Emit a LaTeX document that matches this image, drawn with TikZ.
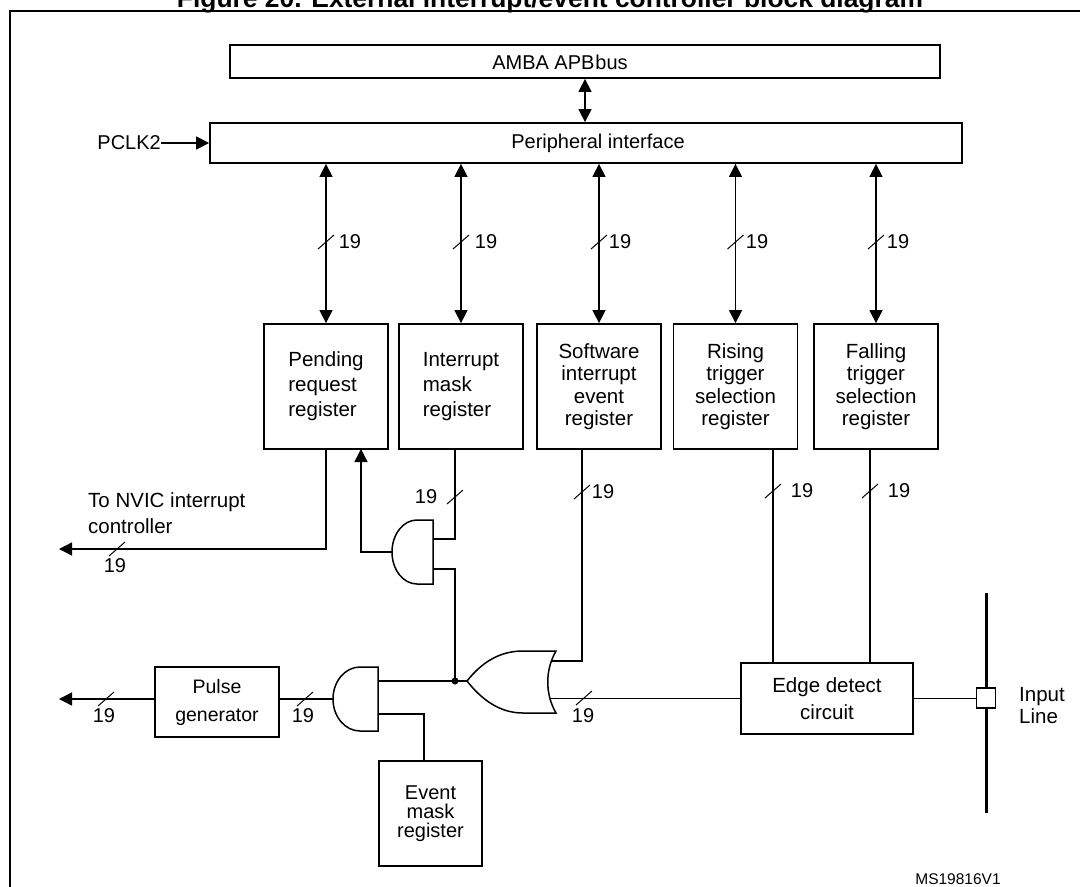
\documentclass[tikz,border=0pt]{standalone}
\usepackage{fontspec}
\usepackage{graphicx}
\setmainfont{Liberation Sans}
\usetikzlibrary{arrows.meta}
\newcommand{\busslash}[1]{\draw[line width=1pt] #1 ++(-8,7) -- ++(16,-14);}
\begin{document}
\begin{tikzpicture}[x=1pt,y=-1pt,
  every node/.style={inner sep=0pt},
  box/.style={draw, line width=1.8pt, fill=white, align=center, font=\fontsize{20.5}{22.5}\selectfont},
  wire/.style={line width=1.3pt},
  tip/.style={-{Triangle[length=13pt,width=13pt]}},
  bus/.style={line width=1.5pt, {Triangle[length=13pt,width=13pt]}-{Triangle[length=13pt,width=13pt]}},
  num/.style={font=\fontsize{20}{22}\selectfont},
  gate/.style={line width=1.5pt, fill=white},
]
\fill[white] (0,0) rectangle (1080,887);
\useasboundingbox (0,0) rectangle (1080,887);

% title and frame
\node[anchor=base, font=\bfseries] (title) at (550,7) {\resizebox{746pt}{!}{Figure 20. External interrupt/event controller block diagram}};
\draw[line width=2.2pt] (1100,11) -- (10,11) -- (10,900);

% top boxes
\node[box, minimum width=710, minimum height=33] (amba) at (585,61.5) {};
\node[font=\fontsize{20}{22}\selectfont] (ambatxt) at (560,62) {AMBA APB\kern1pt bus};
\node[box, minimum width=752, minimum height=40] (periph) at (586,143) {};
\node[font=\fontsize{20}{22}\selectfont] (periphtxt) at (598,143) {Peripheral interface};
\node[num, anchor=east] (pclk) at (161,143) {PCLK2};
\draw[wire, tip] (pclk.east) -- (periph.west);
\draw[bus] (amba.south) -- (amba.south |- periph.north);

% registers
\node[box, align=left, font=\fontsize{20.5}{25}\selectfont, minimum width=124, minimum height=125] (pending) at (326,386.5) {Pending\\request\\register};
\node[box, align=left, font=\fontsize{20.5}{25}\selectfont, minimum width=124, minimum height=125] (intmask) at (461,386.5) {Interrupt\\mask\\register};
\node[box, minimum width=124, minimum height=125] (soft) at (599,386.5) {Software\\interrupt\\event\\register};
\node[box, minimum width=124, minimum height=125] (rising) at (735.5,386.5) {Rising\\trigger\\selection\\register};
\node[box, minimum width=124, minimum height=125] (falling) at (876,386.5) {Falling\\trigger\\selection\\register};

\foreach \reg/\lx in {pending/350,intmask/486,soft/620,rising/757,falling/898}{
  \draw[bus] (\reg.north |- periph.south) -- (\reg.north);
  \busslash{(\reg.north |- 0,242)}
  \node[num] (lab\reg) at (\lx,242) {19};
}

% lower blocks
\node[box, font=\fontsize{20.5}{27}\selectfont, minimum width=172, minimum height=71] (edge) at (827,698.5) {Edge detect\\circuit};
\node[box, font=\fontsize{19.5}{28}\selectfont, minimum width=124, minimum height=70] (pulse) at (217,702) {Pulse\\generator};
\node[box, font=\fontsize{20}{19}\selectfont, minimum width=103, minimum height=105] (evmask) at (430.5,813.5) {Event\\mask\\register};

% pins
\coordinate (nvic) at (59,549);
\coordinate (a1out) at (392,552);
\coordinate (a1in1) at (433,539);
\coordinate (a1in2) at (433,569);
\coordinate (penin) at (361,449);
\coordinate (dot) at (455,681);
\coordinate (a2in1) at (378,681);
\coordinate (a2in2) at (378,714);
\coordinate (a2out) at (333,699);
\coordinate (ortip) at (467,681);
\coordinate (orin1) at (548,661);
\coordinate (orin2) at (548,697);
\coordinate (evout) at (59,699);
\coordinate (inTop) at (986,593);
\coordinate (inBot) at (986,813);

% wires
\draw[wire, tip] (pending.south) |- (nvic);
\draw[wire, tip] (a1out) -| (penin);
\draw[wire] ([xshift=-6pt]intmask.south) |- (a1in1);
\draw[wire] (a1in2) -| (dot);
\draw[wire] (a2in1) -- (ortip);
\fill (dot) circle (3.5pt);
\draw[wire] ([xshift=-17pt]soft.south) |- (orin1);
\draw[wire] ([xshift=37.5pt]rising.south) -- ([xshift=37.5pt]rising.south |- edge.north);
\draw[wire] ([xshift=-6pt]falling.south) -- ([xshift=-6pt]falling.south |- edge.north);
\draw[wire] (edge.west) -- (edge.west -| orin2);
\draw[wire] (a2out) -- (a2out -| pulse.east);
\draw[wire, tip] (evout -| pulse.west) -- (evout);
\draw[wire] (a2in2) -| ([xshift=-6.5pt]evmask.north);

% input line
\draw[line width=3pt] (inTop) -- (inBot);
\node[draw, line width=1.5pt, fill=white, minimum width=19, minimum height=20] (sq) at (986,698) {};
\draw[wire] (edge.east) -- (edge.east -| sq.west);
\node[anchor=west, align=left, font=\fontsize{20.5}{22}\selectfont] (inlbl) at (1019,706) {Input\\Line};

% labels
\node[anchor=west, align=left, font=\fontsize{20.5}{26}\selectfont] (nviclbl) at (88,513) {To NVIC interrupt\\controller};
\busslash{(455,497)} \node[num] (n1) at (426,497) {19};
\busslash{(582,492)} \node[num] (n2) at (603,492) {19};
\busslash{(773,491)} \node[num] (n3) at (802,491) {19};
\busslash{(870,491)} \node[num] (n4) at (899,491) {19};
\busslash{(117,549)} \node[num] (n5) at (115,566) {19};
\busslash{(106,699)} \node[num] (n6) at (104,716) {19};
\busslash{(305,699)} \node[num] (n7) at (303,716) {19};
\busslash{(584,698)} \node[num] (n8) at (583,716) {19};
\node[font=\fontsize{15.5}{17}\selectfont] (ms) at (958,879) {MS19816V1};

% gates
\draw[gate] (433,520) -- (417,520) .. controls (403.2,520) and (392,534.3) .. (392,552) .. controls (392,569.7) and (403.2,584) .. (417,584) -- (433,584) -- cycle;
\draw[gate] (378,667) -- (360,667) .. controls (345.1,667) and (333,681.3) .. (333,699) .. controls (333,716.7) and (345.1,731) .. (360,731) -- (378,731) -- cycle;
\draw[gate] (ortip) .. controls (482,662) and (500,651) .. (523,651) -- (556,651) .. controls (545,670) and (545,694) .. (556,713) -- (523,713) .. controls (500,713) and (482,700) .. (ortip) -- cycle;
\end{tikzpicture}
\end{document}
